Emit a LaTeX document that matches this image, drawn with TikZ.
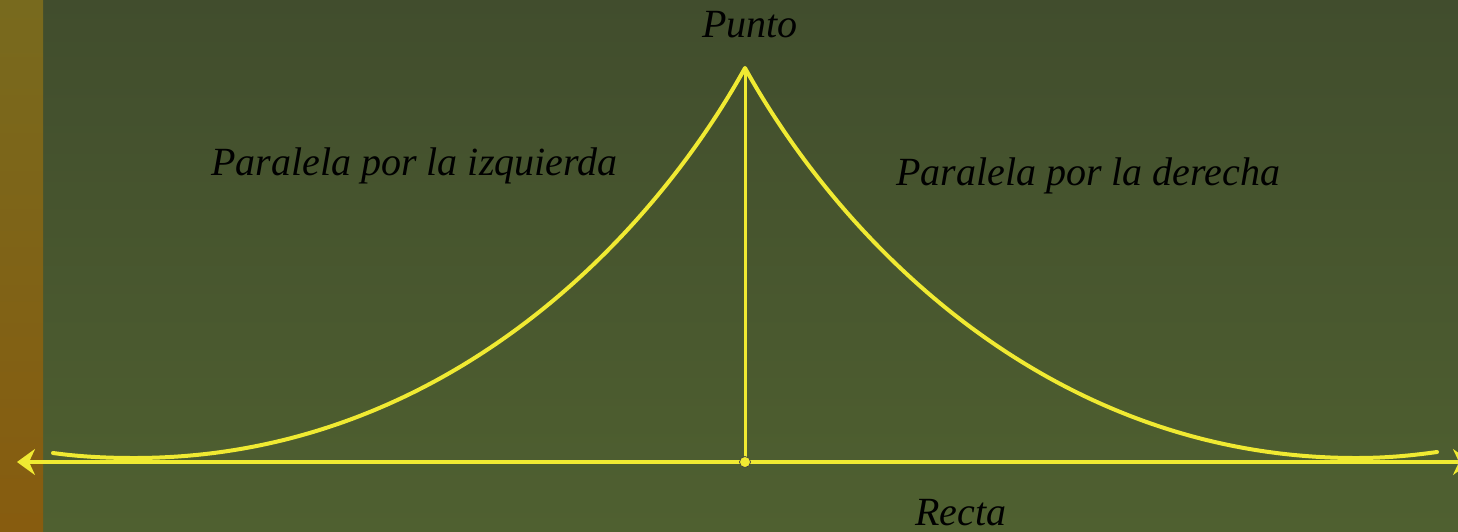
\documentclass[tikz,border=0pt]{standalone}
\usepackage{fontspec}
\setmainfont{Liberation Serif}
\usetikzlibrary{arrows.meta}
\definecolor{bgtop}{RGB}{65,77,45}
\definecolor{bgbot}{RGB}{79,96,48}
\definecolor{striptop}{RGB}{120,106,30}
\definecolor{stripbot}{RGB}{135,92,15}
\definecolor{lineyellow}{RGB}{240,234,50}
\begin{document}
\begin{tikzpicture}[x=1pt,y=-1pt,
  txt/.style={font=\fontsize{40}{46}\selectfont\itshape, text=black, inner sep=0pt, anchor=base west},
  curve/.style={draw=lineyellow, line width=4pt, line join=round, line cap=round},
  axis/.style={draw=lineyellow, line width=3.2pt}]
\useasboundingbox (0,0) rectangle (1458,531);
\clip (0,0) rectangle (1458,531);
\shade[top color=bgtop,bottom color=bgbot] (0,0) rectangle (1458,531);
\shade[top color=striptop,bottom color=stripbot] (0,0) rectangle (43,531);

\coordinate (apex) at (745,68);
\coordinate (foot) at (745,462);
\coordinate (lend) at (17,462);
\coordinate (rend) at (1471,462);
\coordinate (lmin) at (134,458);
\coordinate (rmin) at (1356,458);
\coordinate (ltip) at (53,453);
\coordinate (rtip) at (1437,452);

% the line (Recta) with arrows at both ends
\draw[axis, {Stealth[length=18pt,width=26pt,inset=6pt]}-{Stealth[length=18pt,width=26pt,inset=6pt]}] (lend) -- (rend);

% perpendicular from the point
\draw[axis, line width=3pt] (apex) -- (foot);

% the two parallels
\draw[curve] (ltip) .. controls (75,456) and (100,458) .. (lmin)
  .. controls (435,458) and (645,248) .. (apex)
  .. controls (845,248) and (1055,458) .. (rmin)
  .. controls (1390,458) and (1415,455) .. (rtip);

% foot point
\node[circle, fill=lineyellow, draw=black!75, line width=0.7pt, minimum size=11pt, inner sep=0pt] (dot) at (foot) {};

% labels
\node[txt] (punto) at (702,37) {Punto};
\node[txt] (izq) at (211,175) {Paralela por la izquierda};
\node[txt] (der) at (896,185) {Paralela por la derecha};
\node[txt] (recta) at (915,525) {Recta};
\end{tikzpicture}
\end{document}
